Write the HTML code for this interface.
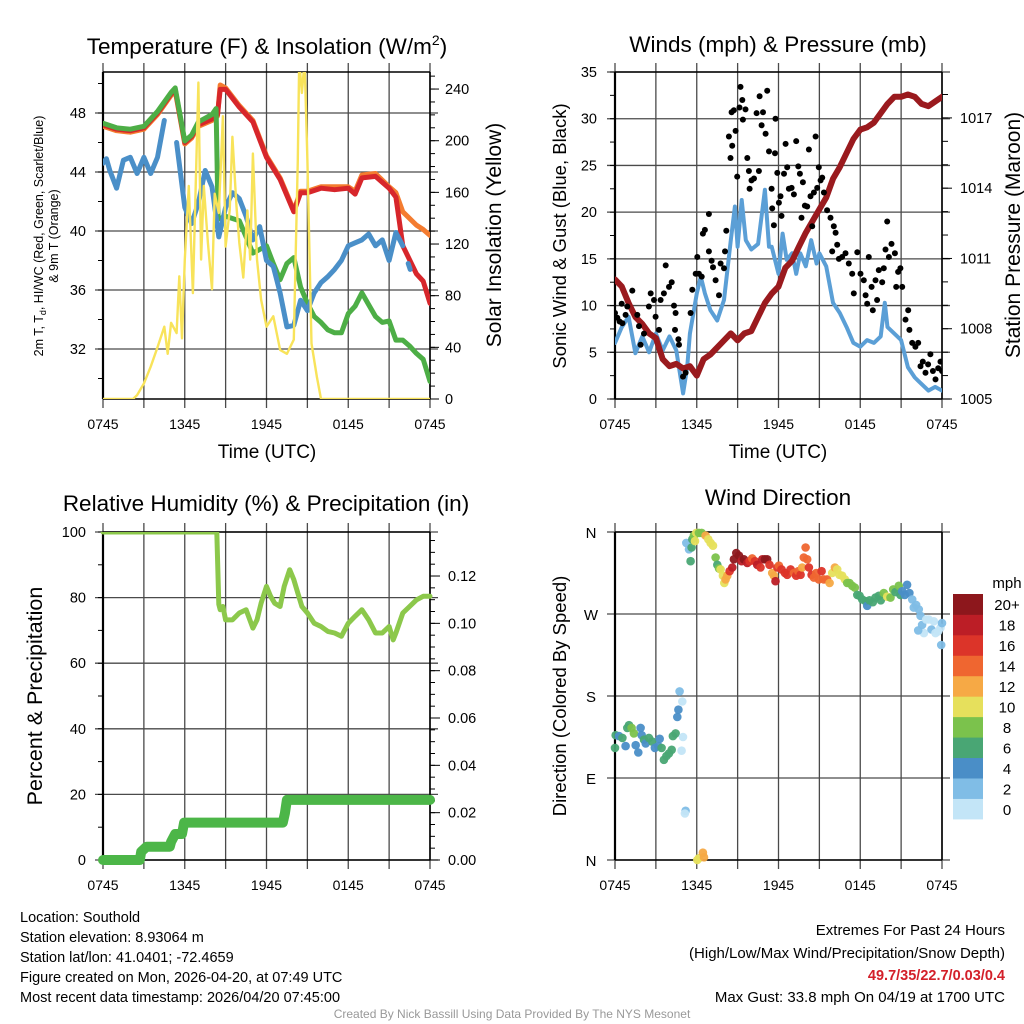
<!DOCTYPE html>
<html><head><meta charset="utf-8"><title>Southold Mesonet Meteogram</title>
<style>
html,body{margin:0;padding:0;background:#fff;}
svg{display:block;font-family:"Liberation Sans",Arial,sans-serif;}
</style></head>
<body>
<svg id="chart" width="1024" height="1024" viewBox="0 0 1024 1024" xmlns="http://www.w3.org/2000/svg">
<rect x="0" y="0" width="1024" height="1024" fill="#fff"/>
<text x="267" y="54" font-size="22.5" text-anchor="middle">Temperature (F) &amp; Insolation (W/m<tspan font-size="14" dy="-9">2</tspan><tspan dy="9">)</tspan></text>
<text x="778" y="52" font-size="22.5" text-anchor="middle">Winds (mph) &amp; Pressure (mb)</text>
<text x="266" y="511" font-size="22.5" text-anchor="middle">Relative Humidity (%) &amp; Precipitation (in)</text>
<text x="778" y="505" font-size="22.5" text-anchor="middle">Wind Direction</text>
<text x="267" y="458" font-size="19" text-anchor="middle">Time (UTC)</text>
<text x="778" y="458" font-size="19" text-anchor="middle">Time (UTC)</text>
<text transform="translate(43,236) rotate(-90)" font-size="12.5" text-anchor="middle">2m T, T<tspan font-size="9" dy="3">d</tspan><tspan dy="-3">, HI/WC (Red, Green, Scarlet/Blue)</tspan></text>
<text transform="translate(58,236) rotate(-90)" font-size="12.5" text-anchor="middle">&amp; 9m T (Orange)</text>
<text transform="translate(501,235) rotate(-90)" font-size="21" text-anchor="middle">Solar Insolation (Yellow)</text>
<text transform="translate(566,236) rotate(-90)" font-size="18.5" text-anchor="middle">Sonic Wind &amp; Gust (Blue, Black)</text>
<text transform="translate(1020,235) rotate(-90)" font-size="21" text-anchor="middle">Station Pressure (Maroon)</text>
<text transform="translate(42,696) rotate(-90)" font-size="21.5" text-anchor="middle">Percent &amp; Precipitation</text>
<text transform="translate(566,696) rotate(-90)" font-size="18.5" text-anchor="middle">Direction (Colored By Speed)</text>
<text x="1007" y="588" font-size="15" text-anchor="middle">mph</text>
<g font-size="14.5">
<text x="20" y="922">Location: Southold</text>
<text x="20" y="942">Station elevation: 8.93064 m</text>
<text x="20" y="962">Station lat/lon: 41.0401; -72.4659</text>
<text x="20" y="982">Figure created on Mon, 2026-04-20, at 07:49 UTC</text>
<text x="20" y="1002">Most recent data timestamp: 2026/04/20 07:45:00</text>
</g>
<g font-size="15" text-anchor="end">
<text x="1005" y="935">Extremes For Past 24 Hours</text>
<text x="1005" y="958">(High/Low/Max Wind/Precipitation/Snow Depth)</text>
<text x="1005" y="980" fill="#d3202a" font-weight="bold" font-size="14.5">49.7/35/22.7/0.03/0.4</text>
<text x="1005" y="1002">Max Gust: 33.8 mph On 04/19 at 1700 UTC</text>
</g>
<text x="512" y="1018" font-size="12" fill="#999" text-anchor="middle">Created By Nick Bassill Using Data Provided By The NYS Mesonet</text>
</svg>
<script>
// ---------- data ----------
const xTickHours=[0,6,12,18,24];
const xTickLabels=['0745','1345','1945','0145','0745'];
const tempTicks=[48,44,40,36,32];
const solarTicks=[0,40,80,120,160,200,240];
const windTicks=[0,5,10,15,20,25,30,35];
const pressTicks=[1005,1008,1011,1014,1017];
const rhTicks=[0,20,40,60,80,100];
const precipTicks=[0,0.02,0.04,0.06,0.08,0.10,0.12];
const precipTickLabels=['0.00','0.02','0.04','0.06','0.08','0.10','0.12'];
const dirTicks=[0,90,180,270,360];
const dirTickLabels=['N','E','S','W','N'];
const speedBinLabels=['0','2','4','6','8','10','12','14','16','18','20+'];

const redHours=[0,1,2,3,4,5,5.3,6,6.5,7,8,8.4,8.6,9,10,11,12,13,14,14.5,15,16,17,18,18.5,19,20,21,21.5,22,23,23.5,24];
const redTemp=[47.2,46.9,46.8,47.0,48.0,49.3,49.6,46.0,46.4,47.2,47.6,47.9,49.6,49.6,48.4,47.4,45.0,43.5,41.3,42.6,42.6,42.9,42.8,42.9,42.5,43.6,43.7,42.9,42.3,39.0,37.1,36.6,35.1];
const orangeHours=[0,1,2,3,4,5,5.3,6,6.5,7,8,8.4,8.6,9,10,11,12,13,14,14.5,15,16,17,18,18.5,19,20,21,21.5,22,23,23.5,24];
const orangeTemp=[47.1,46.8,46.7,46.9,47.9,49.2,49.5,45.9,46.3,47.1,47.5,47.8,49.9,49.7,48.5,47.5,45.1,43.6,41.4,42.7,42.7,43.0,43.0,43.0,42.7,43.8,43.9,43.0,42.6,41.3,40.4,40.1,39.7];
const greenHours=[0,1,2,3,4,5,5.3,6,6.5,7,8,8.3,8.45,9,10,11,12,12.5,13,13.5,14,14.5,15,15.5,16,16.5,17,17.5,18,18.5,19,19.5,20,20.5,21,21.5,22,22.5,23,23.5,24];
const greenTemp=[47.3,47.0,46.9,47.1,48.1,49.4,49.7,46.1,46.5,47.4,47.9,48.3,40.8,41.0,40.7,38.5,39.0,37.8,36.7,37.8,38.2,36.2,35.1,34.2,33.8,33.3,33.1,33.1,34.4,34.9,35.8,35.0,34.2,33.8,33.9,32.6,32.6,32.2,31.7,31.3,29.8];
const blueHours=[0,0.25,0.5,1,1.5,2,2.5,3,3.5,4,4.5,4.8,5.4,6,6.5,7,7.5,8,8.5,9,9.5,10,10.5,11,11.5,12,12.5,13,13.5,14,14.5,15,15.5,16,16.5,17,17.5,18,18.5,19,19.5,20,20.5,21,21.5,22,22.2,22.4,22.55];
const dewTemp=[44.6,44.9,44.1,42.9,44.8,45.0,43.9,45.0,43.9,45.0,47.5,null,46.0,41.6,40.5,41.9,44.1,43.0,39.6,41.6,42.6,42.2,41.0,39.4,40.3,38.0,37.6,35.8,33.5,33.6,35.3,34.6,35.8,36.5,36.9,37.4,38.0,39.0,39.2,39.4,39.8,39.0,39.4,38.0,39.9,39.0,null,37.8,37.4];
const solarHours=[0,2.2,2.5,3,3.5,4,4.5,4.75,5,5.4,5.6,5.8,6,6.3,6.6,7,7.2,7.4,7.7,8,8.2,8.5,8.8,9,9.3,9.5,9.8,10,10.3,10.6,10.8,11,11.3,11.6,12,12.5,13,13.5,14,14.3,14.4,14.6,14.8,15,15.3,15.7,16,24];
const solarWm2=[0,0,3,12,25,40,56,35,59,51,95,47,108,165,82,245,108,165,121,85,159,144,219,118,146,203,149,121,94,146,108,190,108,77,56,64,38,35,46,185,262,237,262,185,43,17,0,0];

const windHours=[0,0.5,1,1.5,2,2.5,3,3.5,4,4.5,5,5.3,5.5,6,6.3,6.6,7,7.5,8,8.5,8.8,9,9.3,9.6,10,10.5,11,11.3,11.5,12,12.3,12.6,13,13.3,13.6,14,14.4,14.8,15,15.5,16,16.5,17,17.5,18,18.5,19,19.5,19.8,20,20.5,21,21.5,22,22.5,23,23.5,24];
const windMph=[6.0,7.7,8.8,4.9,6.7,5.0,7.0,5.2,6.7,5.2,0.6,3.4,7.0,11.3,13.1,11.3,9.5,8.4,10.6,17.0,20.6,16.3,21.3,17.0,16.0,16.6,22.4,16.3,16.3,13.4,17.7,14.9,15.6,13.4,15.6,14.2,17.0,14.5,15.6,14.2,10.3,9.2,7.7,6.0,5.6,6.3,6.0,6.7,10.3,7.7,7.0,6.3,3.4,2.3,1.6,0.9,1.3,0.9];
const pressHours=[0,0.5,1,1.5,2,2.5,3,3.5,4,4.5,5,5.5,6,6.5,7,7.5,8,8.5,9,9.5,10,10.5,11,11.5,12,12.5,13,13.5,14,14.5,15,15.5,16,16.5,17,17.5,18,18.5,19,19.5,20,20.5,21,21.5,22,22.5,23,23.5,24];
const pressMb=[1010.1,1009.8,1009.1,1008.5,1008.2,1007.8,1007.6,1006.7,1006.4,1006.5,1006.3,1006.4,1006.0,1006.7,1006.9,1007.2,1007.5,1007.8,1007.5,1007.8,1007.9,1008.5,1009.1,1009.5,1009.8,1010.6,1010.9,1011.5,1012.1,1012.6,1013.1,1013.6,1014.4,1014.9,1015.5,1016.1,1016.5,1016.6,1016.8,1017.2,1017.6,1017.9,1017.9,1018.0,1017.9,1017.6,1017.5,1017.7,1017.9];
const gustHours=[0,0.17,0.34,0.54,0.49,0.78,0.9,1.27,1.64,1.76,1.88,2.13,2.49,2.62,2.86,2.98,3.23,3.35,3.59,3.72,3.96,4.16,4.33,4.45,4.4,4.65,4.7,4.99,5.18,5.55,5.67,5.92,6.04,6.16,6.36,6.45,6.6,6.89,6.89,7.09,7.19,7.38,7.63,7.75,8.0,8.07,8.17,8.36,8.48,8.6,8.56,8.73,8.85,8.97,9.14,9.21,9.34,9.39,9.58,9.71,9.83,9.88,10.02,10.2,10.39,10.56,10.61,10.76,10.86,11.05,11.17,11.3,11.49,11.54,11.66,11.74,11.78,11.91,12.03,12.15,12.22,12.4,12.52,12.64,12.76,12.96,13.13,13.3,13.45,13.57,13.69,13.79,13.94,14.11,14.23,14.35,14.47,14.6,14.72,14.84,14.96,15.09,15.21,15.33,15.57,15.82,15.94,16.06,16.19,16.31,16.43,16.67,16.92,17.16,17.41,17.53,17.78,18.02,18.26,18.39,18.51,18.63,18.83,18.92,19.12,19.24,19.36,19.61,19.73,19.85,19.98,20.1,20.29,20.54,20.64,20.78,20.95,21.08,21.32,21.52,21.61,21.81,22.05,22.25,22.42,22.59,22.79,22.98,23.15,23.33,23.52,23.72,23.89,24.0];
const gustMph=[9.2,8.7,8.3,8.1,10.2,9.0,9.9,11.6,9.0,7.8,5.8,7.0,9.9,11.3,10.6,8.8,7.4,10.6,11.3,14.3,12.0,12.5,10.0,9.2,7.4,6.4,5.8,2.4,2.8,9.2,11.7,13.4,15.2,13.4,13.1,17.7,18.1,19.8,15.8,14.8,14.1,12.7,11.1,14.5,14.0,15.8,18.0,28.1,25.8,27.1,30.7,30.9,28.7,23.8,31.2,33.4,32.0,29.9,31.0,25.8,24.4,22.5,23.4,23.6,30.6,24.4,32.4,29.3,30.7,28.4,33.0,26.5,22.5,20.4,18.6,26.3,30.0,24.2,21.0,21.7,19.6,24.1,27.3,24.8,22.5,22.6,21.9,27.6,24.9,24.1,19.4,23.2,20.7,20.6,26.7,21.7,18.5,22.1,28.1,22.6,24.8,23.4,23.7,22.1,20.2,19.4,15.8,18.5,17.8,16.5,15.0,15.2,15.6,14.5,13.4,11.3,15.7,13.4,12.7,11.1,10.2,15.2,12.0,9.5,12.7,10.6,13.8,12.5,14.0,16.0,19.0,15.2,16.6,15.6,12.0,13.6,14.0,12.0,8.5,9.5,7.4,6.0,5.6,6.0,3.5,4.0,2.8,3.7,4.8,3.0,2.1,3.3,4.0,3.0];

const rhHours=[0,8.35,8.5,8.6,8.8,9,9.5,10,10.5,11,11.3,11.6,12,12.3,12.6,13,13.3,13.7,14,14.3,14.6,15,15.5,16,16.5,17,17.5,18,18.5,19,19.5,20,20.5,21,21.3,21.5,22,22.5,23,23.5,24];
const rhPct=[100,100,78,76.3,77.3,73.2,73.2,75.3,76.3,70.7,73.2,78.3,83.4,80.4,78.3,77.3,83.4,88.5,85.5,81.4,77.3,75.3,72.2,71.2,69.7,69.2,68.2,72.2,74.3,76.3,73.2,69.2,69.2,71.2,67.1,69.2,75.3,77.3,79.3,80.4,80.4];
const precipHours=[0,2.7,2.8,3.2,4.9,5.0,5.3,5.8,5.95,13.2,13.35,13.5,24];
const precipIn=[0,0,0.0035,0.0056,0.0056,0.0077,0.011,0.011,0.0158,0.0158,0.0197,0.0254,0.0254];

const dirHours=[0,0.05,0.29,0.54,0.78,0.9,1.03,1.22,1.39,1.52,1.71,1.88,1.96,2.13,2.25,2.49,2.74,2.93,3.18,3.28,3.42,3.59,3.77,3.96,4.16,4.25,4.45,4.57,4.65,4.74,4.94,4.99,4.89,5.18,5.13,5.23,5.43,5.55,5.62,5.67,5.79,5.87,5.97,6.16,6.04,6.16,6.45,6.53,6.36,6.65,6.85,7.02,7.19,7.38,7.51,7.63,7.75,7.92,8.02,8.12,8.24,8.41,8.61,8.73,8.9,9.1,9.29,9.46,9.71,9.88,10.07,10.27,10.44,10.68,10.81,11.0,11.17,11.34,11.54,11.66,11.78,11.91,12.03,12.22,12.47,12.64,12.89,13.13,13.3,13.45,13.62,13.74,13.86,13.99,14.11,14.23,14.43,14.6,14.77,14.96,15.16,15.33,15.57,15.75,15.94,16.14,16.31,16.48,16.67,16.87,17.04,17.21,17.41,17.6,17.78,17.95,18.14,18.39,18.51,18.68,18.92,19.12,19.36,19.51,19.73,19.98,20.22,20.42,20.59,20.83,20.95,21.08,21.27,21.44,21.61,21.81,21.93,22.1,22.3,22.42,22.54,22.67,22.25,22.84,23.03,23.23,23.4,23.52,23.72,23.89,24,23.94];
const dirDeg=[123,137,136,134,125,145,148,145,139,126,118,145,137,132,128,134,130,123,125,133,123,110,114,117,121,136,139,157,165,185,174,135,120,54,51,348,341,328,343,352,356,350,359,359,0,2,8,3,359,356,352,348,345,332,324,320,319,312,304,308,312,317,321,330,337,334,328,330,326,328,331,328,324,321,330,330,330,324,315,312,306,321,323,319,315,313,319,315,312,317,313,321,332,343,330,321,313,310,315,308,317,308,308,304,315,321,319,313,312,308,304,304,301,299,291,290,286,284,279,285,283,288,290,285,293,289,288,297,294,301,291,295,291,302,293,286,277,280,275,268,258,249,252,264,264,253,262,249,251,255,260,236];
const dirSpeed=[6,6,5,6,4,6,7,8,8,5,4,4,4,6,5,6,6,4,5,4,6,6,6,6,6,6,6,4,4,2,0,1,1,2,1,2,3,6,6,6,8,10,10,8,10,10,12,12,8,12,11,10,10,8,7,8,10,11,10,12,13,17,19,20,20,20,19,20,18,17,15,17,18,17,19,20,20,17,13,12,18,16,15,17,16,17,16,15,16,15,17,13,14,15,14,17,16,15,15,14,17,15,14,12,11,13,10,11,10,10,9,8,8,8,7,6,6,6,5,6,6,6,6,7,8,10,9,8,6,9,6,4,4,4,4,3,3,3,3,2,2,1,3,1,1,3,1,1,1,1,2,2];
const speedColors=['#c3e5f7','#80bde6','#4a8ec7','#49a674','#7bc24c','#e6e05c','#f6a945','#ef6630','#dc3429','#bc1e26','#8d171c'];

// ---------- helpers ----------
const NS='http://www.w3.org/2000/svg';
const svg=document.getElementById('chart');
function el(tag,attrs,parent){const e=document.createElementNS(NS,tag);for(const k in attrs)e.setAttribute(k,attrs[k]);(parent||svg).appendChild(e);return e;}
const P={
 tl:{x0:103,x1:430,y0:72,y1:399},
 tr:{x0:615,x1:942,y0:72,y1:399},
 bl:{x0:103,x1:430,y0:532,y1:860},
 br:{x0:615,x1:942,y0:532,y1:860}
};
function xOf(p,h){return p.x0+h/24*(p.x1-p.x0);}
function yScale(p,lo,hi){return v=>p.y1-(v-lo)/(hi-lo)*(p.y1-p.y0);}
function pathD(p,hs,vs,yf){let d='',pen=false;for(let i=0;i<hs.length;i++){if(vs[i]===null){pen=false;continue;}d+=(pen?'L':'M')+xOf(p,hs[i]).toFixed(1)+','+yf(vs[i]).toFixed(1);pen=true;}return d;}
function clip(p,id){const cp=el('clipPath',{id:id});el('rect',{x:p.x0,y:p.y0,width:p.x1-p.x0,height:p.y1-p.y0},cp);return cp;}

const yTemp=yScale(P.tl,28.61,50.78), ySolar=yScale(P.tl,0,253.2);
const yWind=yScale(P.tr,0,35), yPress=yScale(P.tr,1005,1018.96);
const yRH=yScale(P.bl,0,100), yPrec=yScale(P.bl,0,0.1386);
const yDir=yScale(P.br,0,360);

function frame(p,key,hVals,hasRight){
  const g=el('g',{});
  
  
  for(let h=0;h<=24;h+=3){
    const x=xOf(p,h);
    const ln=el('line',{x1:x,x2:x,y1:p.y0-9,y2:p.y1+9,stroke:'#4a4a4a','stroke-width':1.3},g);
    
    
  }
  hVals.forEach(y=>{
    const ln=el('line',{x1:p.x0-8,x2:p.x1+(hasRight?8:8),y1:y,y2:y,stroke:'#4a4a4a','stroke-width':1.3},g);
    
    
  });
  const axl=el('line',{x1:p.x0,x2:p.x0,y1:p.y0,y2:p.y1,stroke:'#000','stroke-width':2.2},g);
  
  
  const axb=el('line',{x1:p.x0,x2:p.x1,y1:p.y1,y2:p.y1,stroke:'#000','stroke-width':1.6},g);
  
  
  const axr=el('line',{x1:p.x1,x2:p.x1,y1:p.y0,y2:p.y1,stroke:'#000','stroke-width':1.6},g);
  
  
  const axt=el('line',{x1:p.x0,x2:p.x1,y1:p.y0,y2:p.y0,stroke:'#000','stroke-width':1.4},g);
  
  
  xTickHours.forEach((h,i)=>{
    const t=el('text',{x:xOf(p,h),y:p.y1+30,'font-size':14,'text-anchor':'middle'});
    t.textContent=xTickLabels[i];
    
    
  });
}
function minorTicks(p,key,side,lo,hi,step,yf,len){
  for(let v=lo;v<=hi+1e-9;v+=step){
    const y=yf(v);
    if(y<p.y0-0.5||y>p.y1+0.5)continue;
    const x=side==='left'?p.x0:p.x1;
    const ln=el('line',{x1:x,x2:side==='left'?x-len:x+len,y1:y,y2:y,stroke:'#000','stroke-width':1});
    
    
  }
}
function tickLabels(key,vals,labels,yf,x,anchor){
  vals.forEach((v,i)=>{
    const t=el('text',{x:x,y:yf(v)+5,'font-size':14.5,'text-anchor':anchor});
    t.textContent=labels[i];
    
    
  });
}
function line(p,hs,vs,yf,color,w,name,clipId){
  const e=el('path',{d:pathD(p,hs,vs,yf),fill:'none',stroke:color,'stroke-width':w,'stroke-linejoin':'round','stroke-linecap':'round','clip-path':'url(#'+clipId+')'});
  
  
  return e;
}

const defs=el('defs',{});
clip(P.tl,'clipTL'); clip(P.tr,'clipTR');
const cbl=el('clipPath',{id:'clipBL'});el('rect',{x:P.bl.x0-8,y:P.bl.y0,width:P.bl.x1-P.bl.x0+16,height:P.bl.y1-P.bl.y0+8},cbl);
const cbr=el('clipPath',{id:'clipBR'});el('rect',{x:P.br.x0-6,y:P.br.y0-8,width:P.br.x1-P.br.x0+12,height:P.br.y1-P.br.y0+16},cbr);
[...svg.querySelectorAll('clipPath')].forEach(c=>defs.appendChild(c));

// ---------- top-left: temperature ----------
frame(P.tl,'temperature',tempTicks.map(yTemp),true);
minorTicks(P.tl,'temperature','left',30,50,2,yTemp,5);
minorTicks(P.tl,'temperature','right',0,250,10,ySolar,5);
minorTicks(P.tl,'temperature','right',0,240,40,ySolar,9);
tickLabels('temperature-y',tempTicks,tempTicks.map(String),yTemp,86,'end');
tickLabels('solar-y',solarTicks,solarTicks.map(String),ySolar,445,'start');
line(P.tl,orangeHours,orangeTemp,yTemp,'#f47c30',5,'orange-9m-temp-line','clipTL');
line(P.tl,redHours,redTemp,yTemp,'#d7262b',5,'red-2m-temp-line','clipTL');
line(P.tl,greenHours,greenTemp,yTemp,'#4dae46',5,'green-heat-index-line','clipTL');
line(P.tl,blueHours,dewTemp,yTemp,'#4a8fc8',5,'blue-dewpoint-line','clipTL');
line(P.tl,solarHours,solarWm2,ySolar,'#f8e35a',2.4,'yellow-solar-line','clipTL');

// ---------- top-right: winds ----------
frame(P.tr,'winds',windTicks.map(yWind),true);
minorTicks(P.tr,'winds','left',0,35,2.5,yWind,5);
minorTicks(P.tr,'winds','right',1005,1018,1,yPress,6);
minorTicks(P.tr,'winds','right',1005,1017,3,yPress,10);
tickLabels('wind-y',windTicks,windTicks.map(String),yWind,597,'end');
tickLabels('pressure-y',pressTicks,pressTicks.map(String),yPress,960,'start');
line(P.tr,windHours,windMph,yWind,'#5b9fd6',4,'sonic-wind-line','clipTR');
line(P.tr,pressHours,pressMb,yPress,'#9a1a1e',6,'pressure-line','clipTR');
const gg=el('g',{'clip-path':'url(#clipTR)'});


gustHours.forEach((h,i)=>{
  const c=el('circle',{cx:xOf(P.tr,h).toFixed(1),cy:yWind(gustMph[i]).toFixed(1),r:3,fill:'#000'},gg);
  
  
});

// ---------- bottom-left: RH & precip ----------
frame(P.bl,'humidity',rhTicks.map(yRH),true);
minorTicks(P.bl,'humidity','left',0,100,10,yRH,5);
minorTicks(P.bl,'humidity','right',0,0.135,0.005,yPrec,5);
minorTicks(P.bl,'humidity','right',0,0.12,0.02,yPrec,10);
tickLabels('humidity-y',rhTicks,rhTicks.map(String),yRH,86,'end');
tickLabels('precip-y',precipTicks,precipTickLabels,yPrec,448,'start');
line(P.bl,rhHours,rhPct,yRH,'#8cc84b',5,'relative-humidity-line','clipBL');
line(P.bl,precipHours,precipIn,yPrec,'#4cb648',10,'precipitation-line','clipBL');

// ---------- bottom-right: wind direction ----------
frame(P.br,'direction',dirTicks.map(yDir),false);
dirTicks.forEach((v,i)=>{
  const t=el('text',{x:591,y:yDir(v)+6,'font-size':15,'text-anchor':'middle'});
  t.textContent=dirTickLabels[i];
  
  
});
const dg=el('g',{'clip-path':'url(#clipBR)'});


dirHours.forEach((h,i)=>{
  const bin=Math.min(10,Math.floor(dirSpeed[i]/2));
  const c=el('circle',{cx:xOf(P.br,h).toFixed(1),cy:yDir(dirDeg[i]).toFixed(1),r:4.3,fill:speedColors[bin],'fill-opacity':0.95},dg);
  
  
});
// colorbar
const cbTop=594,cbBot=819,cbX=953,cbW=30;
const binH=(cbBot-cbTop)/speedColors.length;
speedColors.forEach((col,i)=>{
  const y=cbBot-(i+1)*binH;
  const r=el('rect',{x:cbX,y:y.toFixed(2),width:cbW,height:(binH+0.4).toFixed(2),fill:col});
  
  
  const t=el('text',{x:1007,y:(y+binH/2+6).toFixed(1),'font-size':15,'text-anchor':'middle'});
  t.textContent=speedBinLabels[i];
  
  
});
</script>
</body></html>
